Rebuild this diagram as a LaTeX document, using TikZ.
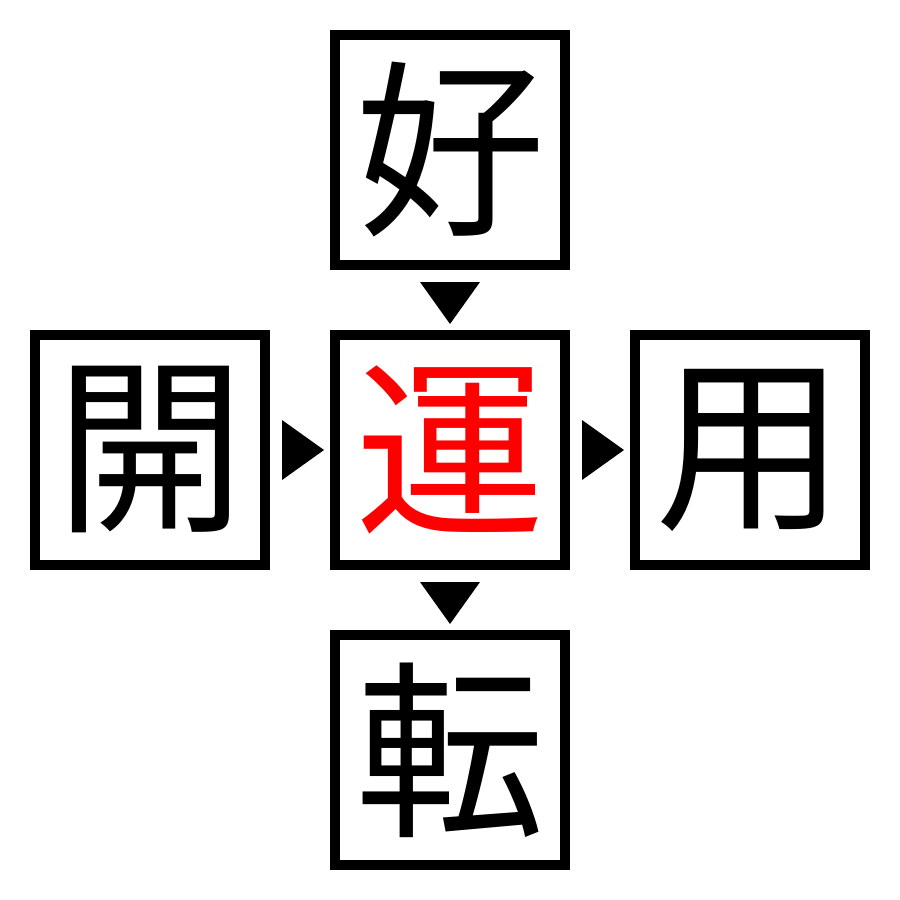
\documentclass[tikz,border=0pt]{standalone}
\usepackage{fontspec}
\usetikzlibrary{calc}
\newfontfamily\cjk{Noto Sans CJK JP}
\begin{document}
\begin{tikzpicture}[x=0.01cm,y=-0.01cm,
  cbox/.style={draw=black,line width=0.1cm,minimum size=2.3cm,inner sep=0pt,
    font=\cjk\fontsize{54}{54}\selectfont},
  tri/.style={fill=black,draw=none}]
\useasboundingbox (0,0) rectangle (900,900);
\node[cbox] (top) at (450,150) {好};
\node[cbox] (left) at (150,450) {開};
\node[cbox,text=red] (mid) at (450,450) {運};
\node[cbox] (right) at (750,450) {用};
\node[cbox] (bot) at (450,750) {転};
\coordinate (td) at ($(top.south)!0.5!(mid.north)$);
\coordinate (bd) at ($(mid.south)!0.5!(bot.north)$);
\coordinate (lr) at ($(left.east)!0.5!(mid.west)$);
\coordinate (rr) at ($(mid.east)!0.5!(right.west)$);
\fill[tri] ($(td)+(-30,-18)$) -- ($(td)+(30,-18)$) -- ($(td)+(0,24)$) -- cycle;
\fill[tri] ($(bd)+(-30,-18)$) -- ($(bd)+(30,-18)$) -- ($(bd)+(0,24)$) -- cycle;
\fill[tri] ($(lr)+(-18,-30)$) -- ($(lr)+(-18,30)$) -- ($(lr)+(24,0)$) -- cycle;
\fill[tri] ($(rr)+(-18,-30)$) -- ($(rr)+(-18,30)$) -- ($(rr)+(24,0)$) -- cycle;
\end{tikzpicture}
\end{document}
